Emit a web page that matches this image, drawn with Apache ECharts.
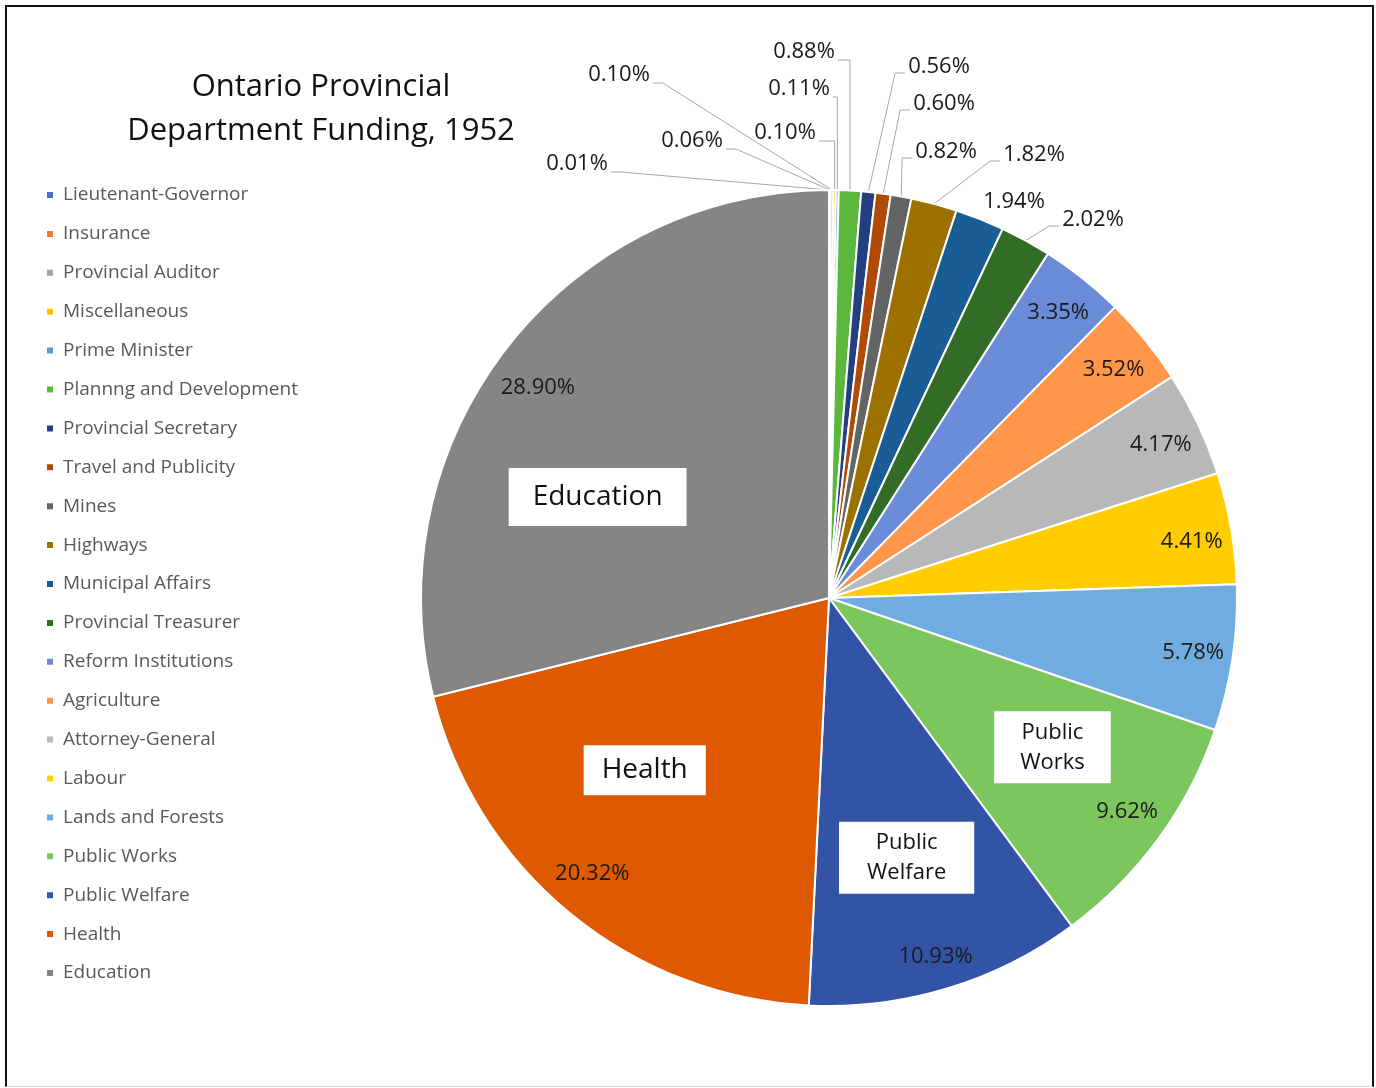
<!DOCTYPE html>
<html>
<head>
<meta charset="utf-8">
<script src="https://cdn.jsdelivr.net/npm/echarts@6/dist/echarts.min.js"></script>
<style>
html,body{margin:0;padding:0;background:#fff;}
#chart{position:absolute;left:0;top:0;width:1376px;height:1088px;}
#frame{position:absolute;left:5px;top:5px;width:1369px;height:1082px;box-sizing:border-box;
 border-left:2px solid #111;border-top:2px solid #111;border-right:2px solid #111;border-bottom:1px solid #d6d6d6;pointer-events:none;}
</style>
</head>
<body>
<div id="chart"></div>
<div id="frame"></div>
<script>
// ---- data ----
const departments = [
  'Lieutenant-Governor','Insurance','Provincial Auditor','Miscellaneous','Prime Minister',
  'Plannng and Development','Provincial Secretary','Travel and Publicity','Mines','Highways',
  'Municipal Affairs','Provincial Treasurer','Reform Institutions','Agriculture','Attorney-General',
  'Labour','Lands and Forests','Public Works','Public Welfare','Health','Education'
];
const sharePct = [
  0.01, 0.06, 0.10, 0.10, 0.11,
  0.88, 0.56, 0.60, 0.82, 1.82,
  1.94, 2.02, 3.35, 3.52, 4.17,
  4.41, 5.78, 9.62, 10.93, 20.32, 28.90
];
const sliceColors = [
  '#4472C4','#ED7D31','#A5A5A5','#FFC000','#5B9BD5',
  '#5CB83C','#223F80','#B04A06','#646464','#9D7100',
  '#1A5C96','#336C27','#6A8BD8','#FF9649','#B8B8B8',
  '#FFCD00','#70ACE0','#7CC75D','#3253A6','#DE5900','#858585'
];
const outsideLabelIdx = [0,1,2,3,4,5,6,7,8,9,10,11];
const insideLabelIdx = [12,13,14,15,16,17,18,19,20];
const namedBoxIdx = [17,18,19,20];

// ---- layout (label placement only) ----
const CX = 829, CY = 598, R = 408;
const FONT = '"Open Sans", "Noto Sans", sans-serif';
const outsidePos = {
  0:[577,164], 1:[692,141], 2:[619,75], 3:[785,133], 4:[799,89], 5:[804,52],
  6:[939,67], 7:[944,104], 8:[946,152], 9:[1034,155], 10:[1014,202], 11:[1093,220]
};
const leftSide = {0:1,1:1,2:1};
const verticalLead = {3:1,4:1,5:1};
const boxShift = {20:[-20,64], 19:[-14,-35], 17:[7,-9], 18:[0,3]};
const boxPad = {20:[10,24], 19:[6,18], 17:[6,26], 18:[6,28]};
const pctShift = {20:[-1,16], 19:[-3,-9], 18:[0,6], 17:[1,-4], 15:[0,7], 14:[-1,4], 13:[-1,4], 12:[0,3]};

const pctFmt = p => p.value.toFixed(2) + '%';

const mainData = departments.map((n, i) => {
  const out = outsideLabelIdx.indexOf(i) >= 0;
  return {
    name: n, value: sharePct[i],
    itemStyle: { color: sliceColors[i] },
    label: { show: out },
    labelLine: { show: out && i !== 10 }
  };
});
const pctData = departments.map((n, i) => ({
  name: n, value: sharePct[i],
  label: { show: insideLabelIdx.indexOf(i) >= 0 }
}));
const boxData = departments.map((n, i) => {
  const show = namedBoxIdx.indexOf(i) >= 0;
  const big = (i === 19 || i === 20);
  return {
    name: n, value: sharePct[i],
    label: {
      show: show,
      fontSize: big ? 28 : 22,
      lineHeight: big ? 38 : 30,
      padding: boxPad[i] || 0
    }
  };
});

const chart = echarts.init(document.getElementById('chart'), null, {renderer: 'canvas'});
const transparentItem = { color: 'rgba(0,0,0,0)', borderWidth: 0 };

chart.setOption({
  animation: false,
  color: sliceColors,
  title: {
    text: 'Ontario Provincial\nDepartment Funding, 1952',
    left: 316, top: 60,
    textAlign: 'center',
    textStyle: { fontFamily: FONT, fontSize: 31, fontWeight: 'normal', color: '#111', lineHeight: 44 }
  },
  legend: {
    orient: 'vertical',
    left: 45, top: 185,
    padding: 0,
    itemWidth: 8, itemHeight: 8,
    itemGap: 18.9,
    icon: 'rect',
    data: departments,
    textStyle: { fontFamily: FONT, fontSize: 19, color: '#595959', lineHeight: 20, padding: [0,0,0,4] }
  },
  series: [
    {
      type: 'pie',
      center: [CX, CY], radius: R,
      startAngle: 90, clockwise: true,
      avoidLabelOverlap: false,
      itemStyle: { borderColor: '#fff', borderWidth: 2 },
      emphasis: { disabled: true },
      label: { position: 'outside', formatter: pctFmt, fontFamily: FONT, fontSize: 22, color: '#1a1a1a' },
      labelLine: { lineStyle: { color: '#A6A6A6', width: 1 } },
      labelLayout: function (p) {
        const pos = outsidePos[p.dataIndex];
        if (!pos) return {};
        const w = p.labelRect.width;
        const res = { x: pos[0], y: pos[1], align: 'center', verticalAlign: 'middle' };
        const pts = p.labelLinePoints;
        if (pts && pts.length) {
          const edge = [pts[0][0], pts[0][1]];
          let end, bend;
          if (leftSide[p.dataIndex]) {
            end = [pos[0] + w / 2 + 3, pos[1] + 8];
            bend = [end[0] + 10, end[1]];
          } else if (verticalLead[p.dataIndex]) {
            end = [pos[0] + w / 2 + 3, pos[1] + 8];
            bend = [edge[0], end[1]];
          } else {
            end = [pos[0] - w / 2 - 3, pos[1] + 6];
            bend = [end[0] - 10, end[1]];
          }
          res.labelLinePoints = [edge, bend, end];
        }
        return res;
      },
      data: mainData
    },
    {
      type: 'pie',
      center: [CX, CY], radius: [R * 0.79, R],
      startAngle: 90, clockwise: true,
      silent: true,
      avoidLabelOverlap: false,
      itemStyle: transparentItem,
      emphasis: { disabled: true },
      label: { position: 'inside', formatter: pctFmt, fontFamily: FONT, fontSize: 22, color: '#1a1a1a' },
      labelLine: { show: false },
      labelLayout: function (p) {
        const s = pctShift[p.dataIndex];
        return s ? { dx: s[0], dy: s[1] } : {};
      },
      data: pctData
    },
    {
      type: 'pie',
      center: [CX, CY], radius: [R * 0.3, R],
      startAngle: 90, clockwise: true,
      silent: true,
      avoidLabelOverlap: false,
      itemStyle: transparentItem,
      emphasis: { disabled: true },
      label: {
        position: 'inside',
        formatter: p => (p.dataIndex === 17 || p.dataIndex === 18) ? p.name.replace(' ', '\n') : p.name,
        fontFamily: FONT, color: '#111',
        backgroundColor: '#fff'
      },
      labelLine: { show: false },
      labelLayout: function (p) {
        const s = boxShift[p.dataIndex];
        return s ? { dx: s[0], dy: s[1] } : {};
      },
      data: boxData
    }
  ]
});
</script>
</body>
</html>
